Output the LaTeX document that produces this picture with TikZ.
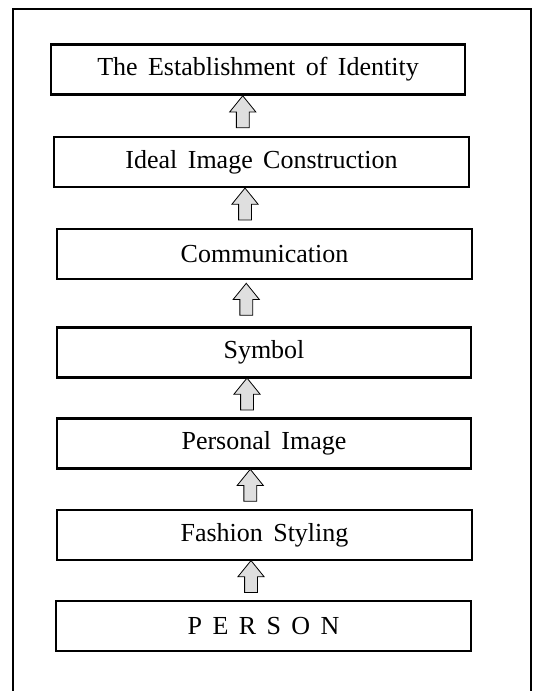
\documentclass[tikz,border=0pt]{standalone}
\usepackage{fontspec}
\setmainfont{Liberation Serif}
\usetikzlibrary{shapes.arrows, positioning, calc}
\newcommand\stagefont{\fontsize{19.5}{23}\selectfont\spaceskip=7.8pt plus 2pt\relax}

\begin{document}
\begin{tikzpicture}[x=0.75pt,y=-0.75pt,
    stage/.style={rectangle,draw=black,line width=1.6pt,minimum width=311pt,minimum height=37.5pt,inner sep=0pt,font=\stagefont},
    rise/.style={single arrow,draw=black,line width=0.6pt,fill=gray!25,shape border rotate=90,minimum height=24pt,inner sep=4.5pt,single arrow head extend=5pt,single arrow tip angle=78}]
    \useasboundingbox (0,0) rectangle (534,691);
    % outer frame, open at the bottom
    \draw[line width=1.5pt] (13,691) -- (13,9) -- (531,9) -- (531,691);

    \node[stage] (ident) at (258,69.5) {The Establishment of Identity};
    \node[stage] (ideal) at (261.5,162) {Ideal Image Construction};
    \node[stage] (comm) at (264.5,254) {Communication};
    \node[stage] (symbol) at (264,352.5) {Symbol};
    \node[stage] (pimage) at (264,443.5) {Personal Image};
    \node[stage] (styling) at (264.5,535) {Fashion Styling};
    \node[stage] (person) at (263.5,626) {P E R S O N};

    % arrows between the stages
    \node[rise] (a1) at ($(ideal.north)!0.5!(ident.south)+(-17,0)$) {};
    \node[rise] (a2) at ($(comm.north)!0.5!(ideal.south)+(-18,0)$) {};
    \node[rise] (a3) at ($(symbol.north)!0.5!(comm.south)+(-18,0)$) {};
    \node[rise] (a4) at ($(pimage.north)!0.5!(symbol.south)+(-17,0)$) {};
    \node[rise] (a5) at ($(styling.north)!0.5!(pimage.south)+(-14,0)$) {};
    \node[rise] (a6) at ($(person.north)!0.5!(styling.south)+(-13,0)$) {};
\end{tikzpicture}
\end{document}
